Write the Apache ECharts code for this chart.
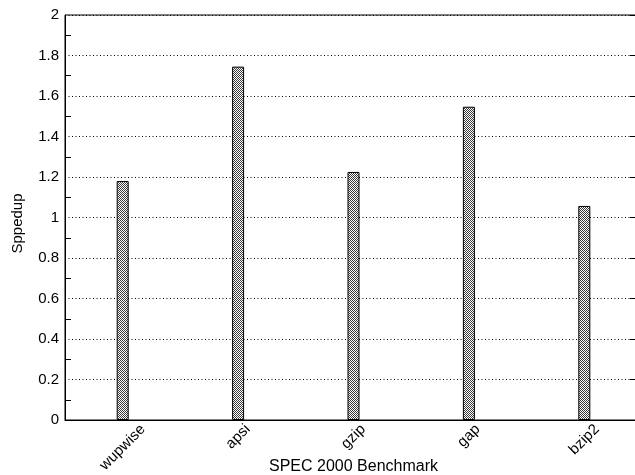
<!DOCTYPE html>
<html>
<head>
<meta charset="utf-8">
<script src="https://cdn.jsdelivr.net/npm/echarts@6/dist/echarts.min.js"></script>
<style>
  html, body { margin: 0; padding: 0; background: #fff; }
  #chart { width: 635px; height: 475px; }
</style>
</head>
<body>
<div id="chart"></div>
<script>
// ---- data ----
const categories = ['wupwise', 'apsi', 'gzip', 'gap', 'bzip2'];
const speedup = [1.18, 1.745, 1.225, 1.547, 1.057];
const yMin = 0, yMax = 2, yStep = 0.2;
const xAxisTitle = 'SPEC 2000 Benchmark';
const yAxisTitle = 'Sppedup';

// ---- styling helpers ----
const FONT = '"Liberation Sans", Arial, Helvetica, sans-serif';
const FS = 15;

// dotted fill pattern for bars
const pc = document.createElement('canvas');
pc.width = 2; pc.height = 2;
const pctx = pc.getContext('2d');
pctx.fillStyle = '#ffffff'; pctx.fillRect(0, 0, 2, 2);
pctx.fillStyle = '#3a3a3a';
pctx.fillRect(0, 0, 1, 1);
pctx.fillRect(1, 1, 1, 1);

// measure label widths so rotated labels sit centred under their tick, tops aligned
const mc = document.createElement('canvas').getContext('2d');
mc.font = FS + 'px ' + FONT;
const catItems = categories.map(function (c) {
  const w = mc.measureText(c).width;
  const dy = 7 + 0.354 * w;
  const L = 1.414 * dy;
  return {
    value: c,
    textStyle: {
      align: 'center', verticalAlign: 'top', lineHeight: L,
      padding: [0, L, 0, 0],
      fontSize: FS, color: '#000', fontFamily: FONT
    }
  };
});

const chart = echarts.init(document.getElementById('chart'), null, { renderer: 'canvas' });
chart.setOption({
  animation: false,
  backgroundColor: '#ffffff',
  textStyle: { fontFamily: FONT, color: '#000' },
  grid: {
    left: 65, right: -7, top: 15, bottom: 55,
    containLabel: false, outerBoundsMode: 'none',
    show: true, borderColor: '#000', borderWidth: 1, backgroundColor: 'transparent'
  },
  xAxis: {
    type: 'category',
    data: catItems,
    name: xAxisTitle,
    nameLocation: 'middle',
    nameGap: 39,
    nameMoveOverlap: false,
    nameTextStyle: { fontSize: 16, color: '#000', fontFamily: FONT },
    axisLine: { lineStyle: { color: '#000', width: 1 } },
    axisTick: { show: false },
    splitLine: { show: false },
    axisLabel: {
      rotate: 45, margin: 0,
      fontSize: FS, color: '#000', fontFamily: FONT, interval: 0
    }
  },
  yAxis: [{
    type: 'value',
    min: yMin, max: yMax, interval: yStep,
    name: yAxisTitle,
    nameLocation: 'middle',
    nameGap: 40,
    nameMoveOverlap: false,
    nameTextStyle: { fontSize: FS, color: '#000', fontFamily: FONT, padding: [0, 12, 0, 0] },
    axisLine: { show: true, lineStyle: { color: '#000', width: 1 } },
    axisTick: { show: false, inside: true, length: 6 },
    minorTick: { show: true, splitNumber: 2, length: 6, lineStyle: { color: '#000', width: 1 } },
    splitLine: { show: true, lineStyle: { color: '#000', width: 1, type: [1, 2.5] } },
    axisLabel: { fontSize: FS, color: '#000', fontFamily: FONT, margin: 6 }
  }, {
    type: 'value',
    position: 'right',
    min: yMin, max: yMax, interval: yStep,
    axisLine: { show: false },
    axisTick: { show: true, inside: true, length: 12, lineStyle: { color: '#000', width: 1 } },
    axisLabel: { show: false },
    splitLine: { show: false }
  }],
  series: [{
    type: 'bar',
    data: speedup,
    barWidth: 12,
    itemStyle: {
      color: { image: pc, repeat: 'repeat' },
      borderColor: '#000',
      borderWidth: 1
    }
  }]
});
</script>
</body>
</html>
